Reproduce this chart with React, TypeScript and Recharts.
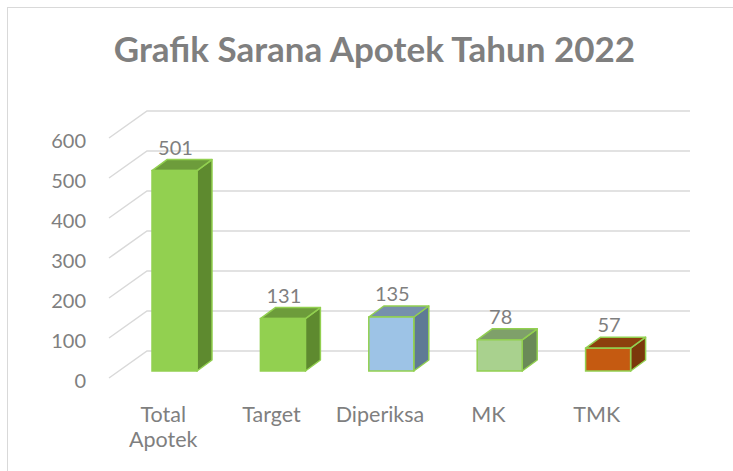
import { BarChart, Bar, XAxis, YAxis, CartesianGrid, LabelList } from "recharts";

const categories = ["Total Apotek", "Target", "Diperiksa", "MK", "TMK"];
const values = [501, 131, 135, 78, 57];
const yTicks = [0, 100, 200, 300, 400, 500, 600];

const rows = categories.map((name, i) => ({ name, value: values[i] }));

// front / side / top colours for each box
const palette = [
  { front: "#92D050", side: "#5E8A2F", top: "#6D9C3B" },
  { front: "#92D050", side: "#5E8A2F", top: "#6D9C3B" },
  { front: "#9DC3E6", side: "#5F7A95", top: "#7690AC" },
  { front: "#A9D18E", side: "#6A8A57", top: "#7FA06A" },
  { front: "#C55A11", side: "#7B380B", top: "#8C400D" },
];

const FONT = "Lato, 'Open Sans', sans-serif";
const TEXT = "#7f7f7f";
const DX = 15;
const DY = -11;

function Box3D(props: any) {
  const { x, y, width: w, height: h, index } = props;
  const c = palette[index] || palette[0];
  const edge = "#92D050";
  return (
    <g>
      <polygon
        points={`${x + w},${y} ${x + w + DX},${y + DY} ${x + w + DX},${y + h + DY} ${x + w},${y + h}`}
        fill={c.side}
        stroke={edge}
        strokeWidth={1.5}
        strokeLinejoin="round"
      />
      <polygon
        points={`${x},${y} ${x + DX},${y + DY} ${x + w + DX},${y + DY} ${x + w},${y}`}
        fill={c.top}
        stroke={edge}
        strokeWidth={1.5}
        strokeLinejoin="round"
      />
      <rect x={x} y={y} width={w} height={h} fill={c.front} stroke={edge} strokeWidth={1.5} />
    </g>
  );
}

function gridLine(p: any) {
  const { x1, x2, y1 } = p;
  return (
    <path
      key={`g-${y1}`}
      d={`M${x1 - 11},${y1 + 7} L${x1 + 27},${y1 - 20} L${x2 + 28},${y1 - 20}`}
      fill="none"
      stroke="#d9d9d9"
      strokeWidth={1.5}
    />
  );
}

function YTick(p: any) {
  const { x, y, payload } = p;
  return (
    <text x={x - 32} y={y + 10} dy="0.35em" textAnchor="end" fill={TEXT} fontSize={20} fontFamily={FONT}>
      {payload.value}
    </text>
  );
}

function XTick(p: any) {
  const { x, y, payload } = p;
  const lines = String(payload.value).split(" ");
  return (
    <text x={x - 11} y={y} textAnchor="middle" fill={TEXT} fontSize={21.5} fontFamily={FONT}>
      {lines.map((l, i) => (
        <tspan key={i} x={x - 11} y={y + 41 + i * 25} dy="0.35em">
          {l}
        </tspan>
      ))}
    </text>
  );
}

function TopLabel(p: any) {
  const { x, y, width, value } = p;
  return (
    <text x={x + width / 2 + 1} y={y - 23} dy="0.35em" textAnchor="middle" fill={TEXT} fontSize={20} fontFamily={FONT}>
      {value}
    </text>
  );
}

export default function App() {
  return (
    <div style={{ position: "absolute", left: 0, top: 0, width: 733, height: 471, background: "#fff", overflow: "hidden" }}>
      <div
        style={{
          position: "absolute",
          left: 7,
          top: 7,
          width: 740,
          height: 480,
          border: "1px solid #d9d9d9",
          boxSizing: "border-box",
        }}
      />
      <div
        style={{
          position: "absolute",
          left: 0,
          top: 27,
          width: 749,
          textAlign: "center",
          fontFamily: FONT,
          fontWeight: 700,
          fontSize: 35,
          color: "#7f7f7f",
          lineHeight: "42px",
        }}
      >
        Grafik Sarana Apotek Tahun 2022
      </div>
      <div style={{ position: "absolute", left: 0, top: 0 }}>
        <BarChart width={733} height={471} data={rows} margin={{ top: 131, right: 71, bottom: 40, left: 60 }}>
          <CartesianGrid vertical={false} horizontal={gridLine} />
          <XAxis dataKey="name" axisLine={false} tickLine={false} tickSize={0} height={60} tick={<XTick />} interval={0} />
          <YAxis
            domain={[0, 600]}
            ticks={yTicks}
            axisLine={false}
            tickLine={false}
            tickSize={0}
            width={60}
            tick={<YTick />}
          />
          <Bar dataKey="value" barSize={45} shape={<Box3D />} isAnimationActive={false}>
            <LabelList dataKey="value" content={<TopLabel />} />
          </Bar>
        </BarChart>
      </div>
    </div>
  );
}
